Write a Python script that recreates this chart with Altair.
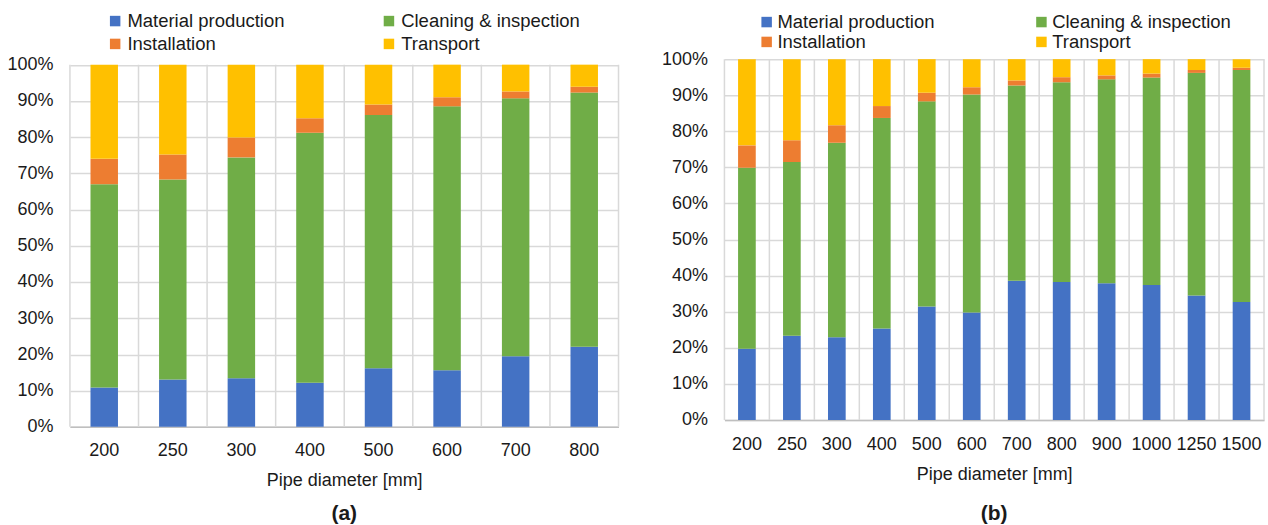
import altair as alt
import pandas as pd

series = ["Material production", "Cleaning & inspection", "Installation", "Transport"]
colors = ["#4472C4", "#70AD47", "#ED7D31", "#FFC000"]

cats_a = ["200", "250", "300", "400", "500", "600", "700", "800"]
material_a = [10.9, 13.1, 13.4, 12.2, 16.2, 15.6, 19.5, 22.1]
cleaning_a = [56.1, 55.2, 61.0, 69.0, 69.9, 72.9, 71.2, 70.2]
install_a = [7.0, 6.9, 5.5, 4.0, 2.9, 2.5, 1.9, 1.6]
transport_a = [26.0, 24.8, 20.1, 14.8, 11.0, 9.0, 7.4, 6.1]

cats_b = ["200", "250", "300", "400", "500", "600", "700", "800", "900", "1000", "1250", "1500"]
material_b = [19.7, 23.3, 22.9, 25.3, 31.4, 29.8, 38.6, 38.2, 37.9, 37.4, 34.5, 32.7]
cleaning_b = [50.2, 48.2, 53.9, 58.4, 56.9, 60.4, 54.1, 55.4, 56.5, 57.5, 61.7, 64.3]
install_b = [6.2, 6.0, 4.9, 3.3, 2.4, 2.0, 1.4, 1.4, 1.1, 1.1, 0.8, 0.6]
transport_b = [23.9, 22.5, 18.3, 13.0, 9.3, 7.8, 5.9, 5.0, 4.5, 4.0, 3.0, 2.4]

FONT = "Liberation Sans"
TXT = "#1a1a1a"
GRID = "#d9d9d9"


def make_df(cats, cols):
    rows = []
    for k, (s, vals) in enumerate(zip(series, cols)):
        for c, v in zip(cats, vals):
            rows.append({"cat": c, "series": s, "value": v, "order": k})
    return pd.DataFrame(rows)


def panel(df, cats, width, height, top_gap, bar, label, legx, legy, colpad, rowpad,
          lbloff, lblpad, title_offset):
    step = width / len(cats)
    ymax = height / (height - top_gap)
    xsort = cats

    rules_df = pd.DataFrame({"cat": cats, "y0": [0.0] * len(cats), "y1": [1.0] * len(cats)})
    last_df = rules_df.iloc[[-1]]

    def rules(data, off):
        return alt.Chart(data).mark_rule(color=GRID, strokeWidth=1.5, xOffset=off).encode(
            x=alt.X("cat:N", sort=xsort, axis=None),
            y=alt.Y("y0:Q", axis=None),
            y2="y1:Q",
        )

    bars = alt.Chart(df).mark_bar(size=bar).encode(
        x=alt.X("cat:N", sort=xsort, title="Pipe diameter [mm]",
                scale=alt.Scale(paddingInner=0, paddingOuter=0),
                axis=alt.Axis(labelAngle=0, grid=False, ticks=False,
                              domainColor="#bfbfbf", domainWidth=1.5,
                              labelFont=FONT, labelFontSize=18, labelColor=TXT,
                              labelPadding=lblpad,
                              titleFont=FONT, titleFontSize=18, titleFontWeight="normal",
                              titleColor=TXT, titlePadding=12)),
        y=alt.Y("value:Q", stack="normalize", title=None,
                scale=alt.Scale(domain=[0, ymax], nice=False, zero=True),
                axis=alt.Axis(values=[i / 10 for i in range(11)], format=".0%",
                              ticks=False, domain=False,
                              gridColor=GRID, gridWidth=1.5,
                              labelFont=FONT, labelFontSize=18, labelColor=TXT,
                              labelPadding=17)),
        color=alt.Color("series:N", sort=series,
                        scale=alt.Scale(domain=series, range=colors),
                        legend=alt.Legend(title=None, orient="none", legendX=legx, legendY=legy,
                                          direction="horizontal",
                                          columns=2, symbolType="square", symbolSize=110,
                                          symbolStrokeWidth=0, columnPadding=colpad,
                                          rowPadding=rowpad, labelOffset=lbloff, labelLimit=0,
                                          labelFont=FONT, labelFontSize=18.5, labelColor=TXT)),
        order=alt.Order("order:Q", sort="ascending"),
    )

    return alt.layer(bars, rules(rules_df, -step / 2), rules(last_df, step / 2)).resolve_axis(
        x="independent", y="independent"
    ).properties(
        width=width, height=height,
        title=alt.Title(label, orient="bottom", fontSize=21, fontWeight="bold",
                        font=FONT, color=TXT, offset=title_offset),
    )


left = panel(make_df(cats_a, [material_a, cleaning_a, install_a, transport_a]),
             cats_a, 549, 368, 5.5, 27.5, "(a)", 36, -47.5, 95, 4, 3, 15, 13)
right = panel(make_df(cats_b, [material_b, cleaning_b, install_b, transport_b]),
              cats_b, 540, 361, 0, 17.7, "(b)", 33, -46.5, 97, 1, 1.5, 16, 19)

chart = alt.hconcat(left, right, spacing=41).resolve_scale(color="independent").configure_view(
    stroke=None
).properties(padding={"left": 6, "top": 11, "right": 3, "bottom": 3})

chart.save("out.html", embed_options={"renderer": "svg", "actions": False})
